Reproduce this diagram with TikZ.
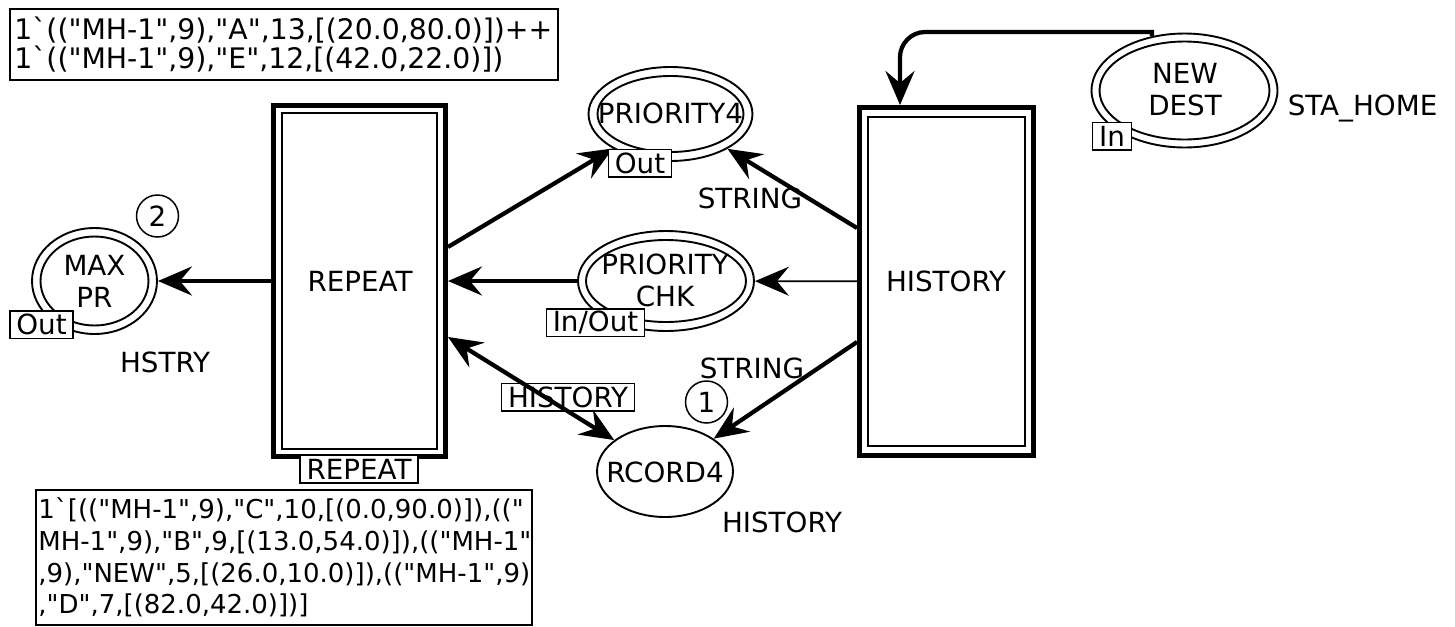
\documentclass[tikz,border=0pt]{standalone}
\usepackage{fontspec}
\setmainfont{DejaVu Sans}[Ligatures=TeXOff]
\usetikzlibrary{shapes.geometric,arrows.meta,calc}
\begin{document}
\begin{tikzpicture}[x=0.02cm,y=-0.02cm,
  every node/.style={font=\fontsize{15.8}{18.2}\selectfont, inner sep=0pt},
  pl/.style={ellipse, draw, line width=0.038cm},
  trans/.style={rectangle, draw, line width=0.1cm},
  transin/.style={rectangle, draw, line width=0.04cm},
  tag/.style={rectangle, draw, line width=0.03cm, fill=white, minimum height=0.55cm, inner xsep=0.13cm},
  tok/.style={circle, draw, line width=0.03cm, minimum size=0.84cm},
  lbl/.style={anchor=base},
  tip/.style={-{Stealth[length=0.68cm,width=0.58cm,inset=0.24cm]}},
  arc/.style={line width=0.085cm, tip},
  thinarc/.style={line width=0.035cm, tip},
  txtbox/.style={draw, line width=0.04cm, anchor=north west},
  topline/.style={anchor=base west, font=\fontsize{16.1}{18}\selectfont},
  botline/.style={anchor=base west, font=\fontsize{14.8}{18}\selectfont}
]
\useasboundingbox (0,0) rectangle (1455,626);

% transitions
\node[trans, minimum width=3.44cm, minimum height=7.04cm] (rep) at (359.5,281) {};
\node[transin, minimum width=3.1cm, minimum height=6.74cm] (repin) at (359.5,281) {};
\node (reptxt) at (360,281) {REPEAT};
\node[trans, minimum width=3.48cm, minimum height=6.96cm] (hi) at (946.5,281.5) {};
\node[transin, minimum width=3.16cm, minimum height=6.6cm] (hiin) at (946.5,281.5) {};
\node (hitxt) at (946,281) {HISTORY};

% places
\node[pl, minimum width=2.5cm, minimum height=2.12cm] (mp) at (94.5,281) {};
\node[pl, minimum width=2.16cm, minimum height=1.78cm] (mpin) at (94.5,281) {};
\node[align=center] (mptxt) at (94.5,281) {MAX\\PR};

\node[pl, minimum width=3.28cm, minimum height=1.88cm] (p4) at (670.5,114) {};
\node[pl, minimum width=2.92cm, minimum height=1.52cm] (p4in) at (670.5,114) {};
\node (p4txt) at (670.5,113) {PRIORITY4};

\node[pl, minimum width=3.52cm, minimum height=2.0cm] (pc) at (666,281) {};
\node[pl, minimum width=3.2cm, minimum height=1.64cm] (pcin) at (666,281) {};
\node[align=center] (pctxt) at (665,280) {PRIORITY\\CHK};

\node[pl, minimum width=3.72cm, minimum height=2.28cm] (nd) at (1184.5,90.5) {};
\node[pl, minimum width=3.4cm, minimum height=1.96cm] (ndin) at (1184.5,90.5) {};
\node[align=center] (ndtxt) at (1185,90) {NEW\\DEST};

\node[pl, minimum width=2.72cm, minimum height=1.82cm] (rc) at (665,471.5) {};
\node (rctxt) at (665,472) {RCORD4};

% connectors
\draw[arc] (rep) -- (mp);
\draw[arc] ([yshift=0.68cm]rep.east) -- (p4);
\draw[arc] (pc) -- (rep);
\draw[arc] ([yshift=1.07cm]hi.west) -- (p4);
\draw[thinarc] (hi) -- (pc);
\draw[arc] ([yshift=-1.21cm]hi.west) -- (rc);
\draw[arc, {Stealth[length=0.68cm,width=0.58cm,inset=0.24cm]}-{Stealth[length=0.68cm,width=0.58cm,inset=0.24cm]}] ([yshift=-1.12cm]rep.east) -- (rc);
\coordinate (c1) at (1152,32);
\coordinate (c2) at (925,32);
\coordinate (c3) at (900,57);
\draw[arc] (nd.121) -- (c1) -- (c2) .. controls (911.2,32) and (900,43.8) .. (c3) -- ([xshift=-0.93cm]hi.north);

% tags
\node[tag] (mpout) at (41.5,324.5) {Out};
\node[tag] (p4out) at (640,163) {Out};
\node[tag] (pcio) at (595.5,322.5) {In/Out};
\node[tag] (ndin2) at (1112,136) {In};
\node[tag] (reptag) at (359,469) {REPEAT};
\node[tag, fill=none] (histag) at (568,397) {HISTORY};

% tokens
\node[tok] (tok2) at (157.5,216) {2};
\node[tok] (tok1) at (706.5,402) {1};

% labels
\node[lbl] (lsta) at (1362.5,115) {STA\_HOME};
\node[lbl] (lstr1) at (750,208) {STRING};
\node[lbl] (lstr2) at (752,378) {STRING};
\node[lbl] (lhist) at (782,532) {HISTORY};
\node[lbl] (lhstry) at (165,372) {HSTRY};

% marking boxes
\node[txtbox, minimum width=10.96cm, minimum height=1.42cm] (m1) at (9,8) {};
\node[topline] (m1a) at (14,39) {1\textasciigrave(("MH-1",9),"A",13,[(20.0,80.0)])++};
\node[topline] (m1b) at (14,68) {1\textasciigrave(("MH-1",9),"E",12,[(42.0,22.0)])};

\node[txtbox, minimum width=9.92cm, minimum height=2.70cm] (m2) at (35,489) {};
\node[botline] (m2a) at (38,518) {1\textasciigrave[(("MH-1",9),"C",10,[(0.0,90.0)]),(("};
\node[botline] (m2b) at (38,550) {MH-1",9),"B",9,[(13.0,54.0)]),(("MH-1"};
\node[botline] (m2c) at (38,582) {,9),"NEW",5,[(26.0,10.0)]),(("MH-1",9)};
\node[botline] (m2d) at (38,613) {,"D",7,[(82.0,42.0)])]};
\end{tikzpicture}
\end{document}
